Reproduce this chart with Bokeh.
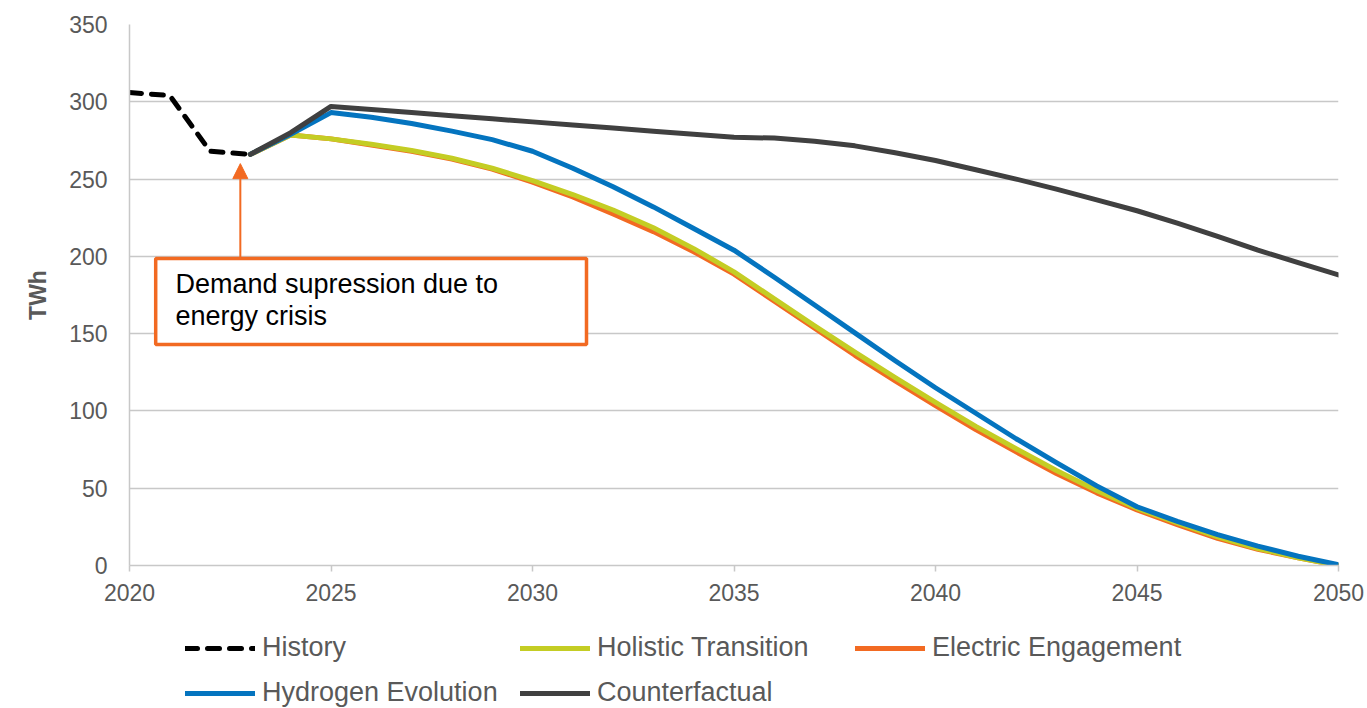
from bokeh.plotting import figure
from bokeh.layouts import column
from bokeh.models import (Range1d, Legend, LegendItem, BoxAnnotation, Label, Arrow,
                          NormalHead, FixedTicker, ColumnDataSource)
from bokeh.embed import file_html
from bokeh.resources import INLINE

# ---------------- data ----------------
hist_years = [2020, 2021, 2022, 2023]
history = [306, 304, 268, 266]

years = list(range(2023, 2051))
holistic = [266, 278.5, 276, 272.5, 268.5, 263.5, 257, 249, 240, 230, 218.5, 205, 190,
            172.5, 155, 138, 121.5, 105.5, 90, 75.5, 61.5, 48.5, 37, 27.5, 18.5, 11, 5, 0]
electric = [266, 278.5, 276, 272, 268, 263, 256.5, 248, 238.5, 227.5, 216, 203, 188.5,
            171, 153.5, 136, 119.5, 103.5, 88, 73.5, 59.5, 47, 36, 26.5, 17.5, 10.5, 5, 0]
hydrogen = [266, 279, 293, 290, 286, 281, 275.5, 268, 257, 245, 232, 218, 204,
            186.5, 168.5, 150.5, 132.5, 115, 98.5, 82, 66.5, 51.5, 38, 28.5, 20, 12.5, 6, 0.5]
counterfactual = [266, 280, 297, 295, 293, 291, 289, 287, 285, 283, 281, 279, 277,
                  276.5, 274.5, 271.5, 267, 262, 256, 250, 243.5, 236.5, 229.5, 221.5, 213, 204, 196, 188]

x_ticks = [2020, 2025, 2030, 2035, 2040, 2045, 2050]
y_ticks = [0, 50, 100, 150, 200, 250, 300, 350]

annotation_text = ["Demand supression due to", "energy crisis"]

# ---------------- styles ----------------
FONT = "Liberation Sans"
GREY_TXT = "#595959"
C_HIST = "#000000"
C_HOL = "#c4cd24"
C_ELEC = "#f26a22"
C_HYD = "#0474bf"
C_CF = "#404040"
LW = 5

p = figure(width=1367, height=620, output_backend="svg", toolbar_location=None,
           x_range=Range1d(2020, 2050), y_range=Range1d(0, 350),
           min_border_left=129, min_border_right=29, min_border_top=24, min_border_bottom=55)
p.outline_line_color = None
p.background_fill_color = "white"
p.xgrid.grid_line_color = None
p.ygrid.grid_line_color = "#c8c8c8"
p.ygrid.grid_line_width = 1.5

p.xaxis.ticker = FixedTicker(ticks=x_ticks)
p.yaxis.ticker = FixedTicker(ticks=y_ticks)
p.xaxis.minor_tick_line_color = None
p.yaxis.minor_tick_line_color = None
p.xaxis.axis_line_color = "#c8c8c8"
p.xaxis.axis_line_width = 1.5
p.xaxis.major_tick_line_color = "#c8c8c8"
p.xaxis.major_tick_line_width = 1.5
p.xaxis.major_tick_out = 6
p.xaxis.major_tick_in = 0
p.xaxis.major_label_standoff = 12
p.yaxis.axis_line_color = "#c8c8c8"
p.yaxis.axis_line_width = 1.5
p.yaxis.major_tick_line_color = None
p.yaxis.major_label_standoff = 16
for ax in (p.xaxis, p.yaxis):
    ax.major_label_text_font = FONT
    ax.major_label_text_font_size = "23px"
    ax.major_label_text_color = GREY_TXT
p.yaxis.axis_label = "TWh"
p.yaxis.axis_label_text_font = FONT
p.yaxis.axis_label_text_font_size = "23px"
p.yaxis.axis_label_text_font_style = "bold"
p.yaxis.axis_label_text_color = GREY_TXT
p.yaxis.axis_label_standoff = 15

src = ColumnDataSource(dict(year=years, hol=holistic, elec=electric, hyd=hydrogen, cf=counterfactual))
hsrc = ColumnDataSource(dict(year=hist_years, v=history))

styles = dict(
    elec=dict(line_color=C_ELEC, line_width=LW, line_join="round", line_cap="round"),
    hol=dict(line_color=C_HOL, line_width=LW, line_join="round", line_cap="round"),
    hyd=dict(line_color=C_HYD, line_width=LW, line_join="round", line_cap="round"),
    cf=dict(line_color=C_CF, line_width=LW, line_join="round", line_cap="round"),
    hist=dict(line_color=C_HIST, line_width=LW, line_dash="12 10", line_join="round", line_cap="round"),
)

p.line("year", "elec", source=src, **styles["elec"])
p.line("year", "hol", source=src, **styles["hol"])
p.line("year", "hyd", source=src, **styles["hyd"])
p.line("year", "cf", source=src, **styles["cf"])
p.line("year", "v", source=hsrc, **styles["hist"])

# annotation box, arrow and text
box = BoxAnnotation(left=2020.65, right=2031.34, bottom=143, top=198.6,
                    fill_color="white", fill_alpha=1.0, line_color=C_ELEC, line_width=3.5,
                    line_alpha=1.0)
p.add_layout(box)
p.add_layout(Arrow(end=NormalHead(size=15, fill_color=C_ELEC, line_color=C_ELEC),
                   x_start=2022.75, y_start=198.6, x_end=2022.75, y_end=260,
                   line_color=C_ELEC, line_width=2))
p.add_layout(Label(x=2021.14, y=181.8, text=annotation_text[0], text_font=FONT,
                   text_font_size="27px", text_color="black", text_baseline="middle"))
p.add_layout(Label(x=2021.14, y=161.7, text=annotation_text[1], text_font=FONT,
                   text_font_size="27px", text_color="black", text_baseline="middle"))

# ---------------- legend strip below ----------------
p2 = figure(width=1367, height=88, output_backend="svg", toolbar_location=None,
            x_range=Range1d(0, 1), y_range=Range1d(0, 1),
            x_axis_type=None, y_axis_type=None,
            min_border_left=129, min_border_right=29, min_border_top=0, min_border_bottom=0)
p2.outline_line_color = None
p2.xgrid.grid_line_color = None
p2.ygrid.grid_line_color = None
nan = float("nan")
lr = {k: p2.line(x=[nan, nan], y=[nan, nan], **v) for k, v in styles.items()}

legend = Legend(items=[
    LegendItem(label="History", renderers=[lr["hist"]]),
    LegendItem(label="Holistic Transition", renderers=[lr["hol"]]),
    LegendItem(label="Electric Engagement", renderers=[lr["elec"]]),
    LegendItem(label="Hydrogen Evolution", renderers=[lr["hyd"]]),
    LegendItem(label="Counterfactual", renderers=[lr["cf"]]),
], orientation="horizontal", ncols=3, location=(56, 0),
    glyph_width=70, glyph_height=28, label_standoff=7, label_width=244, label_height=28,
    spacing=14, padding=0, margin=0, border_line_color=None, background_fill_alpha=0,
    label_text_font=FONT, label_text_font_size="27px", label_text_color=GREY_TXT)
p2.add_layout(legend, "center")

open("out.html", "w").write(file_html(column(p, p2, spacing=0), INLINE))
